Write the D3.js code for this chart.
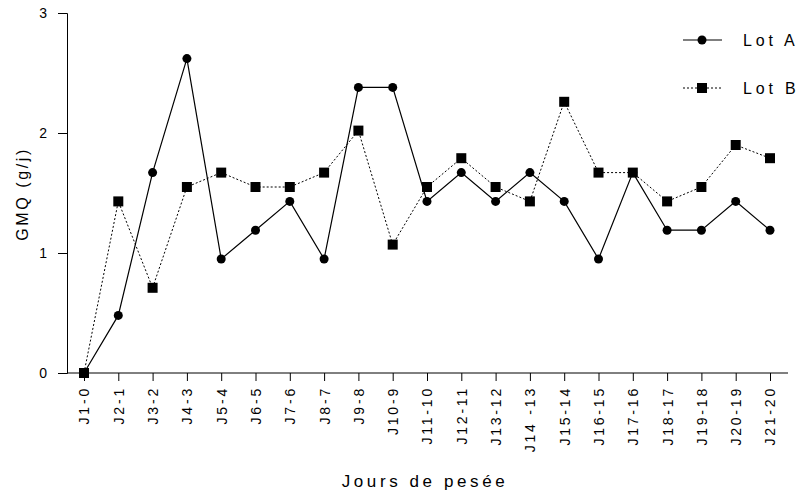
<!DOCTYPE html>
<html><head><meta charset="utf-8">
<script src="https://cdn.jsdelivr.net/npm/d3@7"></script>
<style>body{margin:0;background:#fff}svg{display:block}text{font-family:"Liberation Sans",Arial,sans-serif;fill:#000}</style>
</head><body><svg id="c" width="799" height="492"></svg>
<script>
const categories = ["J1-0","J2-1","J3-2","J4-3","J5-4","J6-5","J7-6","J8-7","J9-8","J10-9","J11-10","J12-11","J13-12","J14 -13","J15-14","J16-15","J17-16","J18-17","J19-18","J20-19","J21-20"];
const lotA = [0,0.48,1.67,2.62,0.95,1.19,1.43,0.95,2.38,2.38,1.43,1.67,1.43,1.67,1.43,0.95,1.67,1.19,1.19,1.43,1.19];
const lotB = [0,1.43,0.71,1.55,1.67,1.55,1.55,1.67,2.02,1.07,1.55,1.79,1.55,1.43,2.26,1.67,1.67,1.43,1.55,1.90,1.79];
const yTicks = [0,1,2,3];

const svg = d3.select("#c");
const x = d3.scalePoint().domain(categories).range([84,770]);
const y = d3.scaleLinear().domain([0,3]).range([373,13]);

// axes
const yAxis = svg.append("g").attr("transform","translate(67,0)")
  .call(d3.axisLeft(y).tickValues(yTicks).tickFormat(d3.format("d")).tickSizeOuter(0).tickSize(9).tickPadding(11));
yAxis.select(".domain").attr("stroke","#000");
yAxis.selectAll("text").attr("font-size",14).style("font-family","Liberation Sans, Arial");

const xg = svg.append("g").attr("transform","translate(0,373)");
xg.append("line").attr("x1",67).attr("x2",788).attr("y1",0).attr("y2",0).attr("stroke","#000");
const xAxis = xg.call(d3.axisBottom(x).tickSize(8).tickSizeOuter(0).tickPadding(6));
xAxis.select(".domain").remove();
xAxis.selectAll("text")
  .attr("transform","rotate(-90)")
  .attr("text-anchor","end")
  .attr("dy","0.35em")
  .attr("x",-13).attr("y",0)
  .attr("font-size",14)
  .style("letter-spacing","2.8px")
  .style("font-family","Liberation Sans, Arial");

// lines
const line = d3.line().x((d,i)=>x(categories[i])).y(d=>y(d));
svg.append("path").datum(lotB).attr("d",line).attr("fill","none").attr("stroke","#000").attr("stroke-width",1).attr("stroke-dasharray","2,2");
svg.append("path").datum(lotA).attr("d",line).attr("fill","none").attr("stroke","#000").attr("stroke-width",1.2);

svg.append("g").selectAll("rect").data(lotB).join("rect")
  .attr("x",(d,i)=>x(categories[i])-5).attr("y",d=>y(d)-5).attr("width",10).attr("height",10).attr("fill","#000");
svg.append("g").selectAll("circle").data(lotA).join("circle")
  .attr("cx",(d,i)=>x(categories[i])).attr("cy",d=>y(d)).attr("r",4.5).attr("fill","#000");

// legend
const lg = svg.append("g");
lg.append("line").attr("x1",683).attr("x2",722).attr("y1",40).attr("y2",40).attr("stroke","#000").attr("stroke-width",1.2);
lg.append("circle").attr("cx",702).attr("cy",40).attr("r",4.5).attr("fill","#000");
lg.append("text").attr("x",743).attr("y",46).attr("font-size",16).style("letter-spacing","3.8px").text("Lot A");
lg.append("line").attr("x1",683).attr("x2",722).attr("y1",88).attr("y2",88).attr("stroke","#000").attr("stroke-dasharray","2,2");
lg.append("rect").attr("x",697).attr("y",83).attr("width",10).attr("height",10).attr("fill","#000");
lg.append("text").attr("x",743).attr("y",94).attr("font-size",16).style("letter-spacing","3.8px").text("Lot B");

// titles
svg.append("text").attr("x",425).attr("y",487).attr("text-anchor","middle").attr("font-size",17).style("letter-spacing","3.6px").text("Jours de pesée");
svg.append("text").attr("transform","translate(28,194) rotate(-90)").attr("text-anchor","middle").attr("font-size",16).style("letter-spacing","2.6px").text("GMQ (g/j)");
</script></body></html>
